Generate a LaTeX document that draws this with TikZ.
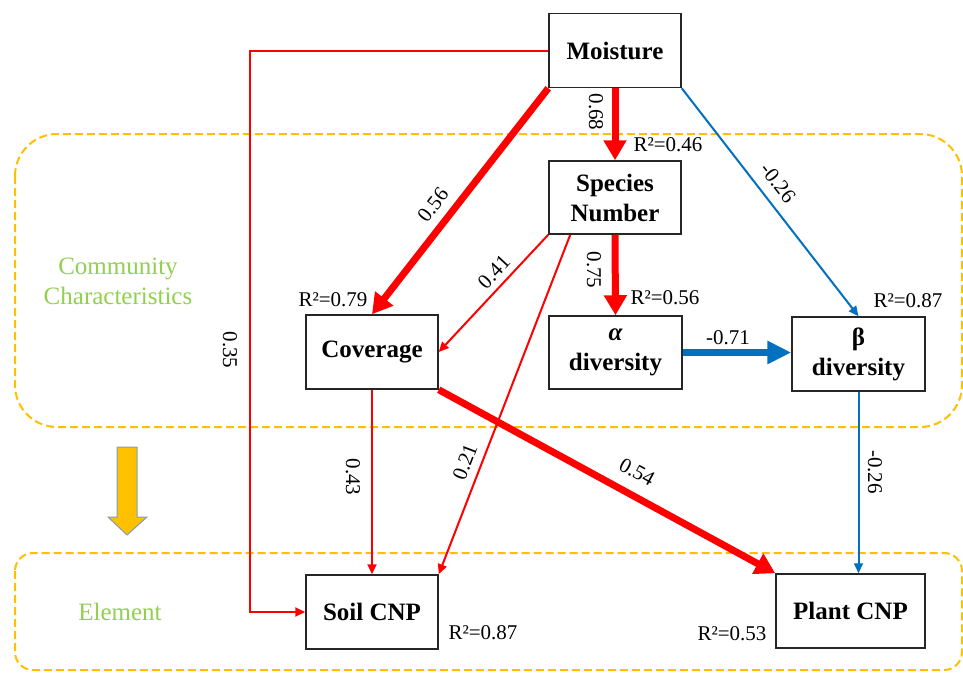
\documentclass[tikz,border=0pt]{standalone}
\usepackage{fontspec}
\setmainfont{Liberation Serif}
\usetikzlibrary{arrows.meta}
\definecolor{myred}{RGB}{255,0,0}
\definecolor{myblue}{RGB}{0,112,192}
\definecolor{gold}{RGB}{255,192,0}
\definecolor{grn}{RGB}{146,208,80}
\definecolor{arrowedge}{RGB}{127,159,185}
\begin{document}
\begin{tikzpicture}[x=1pt,y=-1pt,
 box/.style={draw=black!85, line width=1.5pt, fill=white, minimum width=132pt, minimum height=74pt, inner sep=0pt, align=center, font=\fontsize{25}{30}\selectfont\bfseries},
 lab/.style={font=\fontsize{21}{24}\selectfont, inner sep=1pt},
 grplab/.style={font=\fontsize{25}{30}\selectfont, text=grn, align=center, inner sep=0pt},
 grp/.style={draw=gold, line width=2pt, dash pattern=on 8pt off 4pt},
 thinred/.style={draw=myred, line width=2pt, -{Triangle[length=10pt,width=9pt]}},
 thickred/.style={draw=myred, line width=7pt, -{Triangle[length=20pt,width=22pt]}},
 thinblue/.style={draw=myblue, line width=2pt, -{Triangle[length=10pt,width=9pt]}},
 thickblue/.style={draw=myblue, line width=7pt, -{Triangle[length=24pt,width=22pt]}}
]
\useasboundingbox[fill=white] (0,0) rectangle (963,672);
% groups
\draw[grp, rounded corners=42pt] (15,134) rectangle (962,427);
\draw[grp, rounded corners=18pt] (15,553) rectangle (962,670);
\node[grplab] (gcom) at (118,281) {Community\\Characteristics};
\node[grplab] (gel) at (120,612) {Element};
% yellow arrow
\filldraw[fill=gold, draw=arrowedge, line width=1pt]
  (117,447) -- (137,447) -- (137,517) -- (147,517) -- (127,535) -- (108,517) -- (117,517) -- cycle;
% boxes
\node[box] (m) at (615,50.5) {Moisture};
\node[box, minimum height=73pt] (sp) at (615,197.5) {Species\\Number};
\node[box] (cov) at (372,352) {Coverage};
\node[box, minimum width=133pt, minimum height=73pt] (al) at (615.5,352.5) {\itshape α\\diversity};
\node[box, minimum width=133pt] (be) at (858.5,354) {β\\diversity};
\node[box] (soil) at (372,612) {Soil CNP};
\node[box, minimum width=149pt] (pl) at (850.5,611) {Plant CNP};
\coordinate (c1) at (250,50.5);
% connectors
\draw[thinred] (m.west) -- (c1) |- (soil.west);
\draw[thickred] (m.south west) -- (cov.north);
\draw[thickred] (m.south) -- (sp.north);
\draw[thinblue] (m.south east) -- (be.north);
\draw[thinred] (sp.south west) -- (cov.east);
\draw[thinred] ([xshift=22pt]sp.south west) -- (soil.north east);
\draw[thickred] (sp.south) -- (al.north);
\draw[thickblue] (al.east) -- (al.east -| be.west);
\draw[thinred] (cov.south) -- (soil.north);
\draw[thickred] (cov.south east) -- (pl.north west);
\draw[thinblue] (be.south) -- (be.south |- pl.north);
% edge labels
\node[lab, rotate=-90] (l1) at (230,350) {0.35};
\node[lab, rotate=52.5] (l2) at (433,205) {0.56};
\node[lab, rotate=-90] (l3) at (596,112) {0.68};
\node[lab, rotate=-52] (l4) at (778,183) {-0.26};
\node[lab, rotate=47] (l5) at (494,272) {0.41};
\node[lab, rotate=69] (l6) at (465,462) {0.21};
\node[lab, rotate=-90] (l7) at (594,270) {0.75};
\node[lab] (l8) at (728,338) {-0.71};
\node[lab, rotate=-90] (l9) at (353,477) {0.43};
\node[lab, rotate=-28.7] (l10) at (637,472) {0.54};
\node[lab, rotate=-90] (l11) at (875,472) {-0.26};
% R2 labels
\node[lab] (r1) at (668,145) {R²=0.46};
\node[lab] (r2) at (665,298) {R²=0.56};
\node[lab] (r3) at (333,300) {R²=0.79};
\node[lab] (r4) at (908,301) {R²=0.87};
\node[lab] (r5) at (483,633) {R²=0.87};
\node[lab] (r6) at (732,634) {R²=0.53};
\end{tikzpicture}
\end{document}
